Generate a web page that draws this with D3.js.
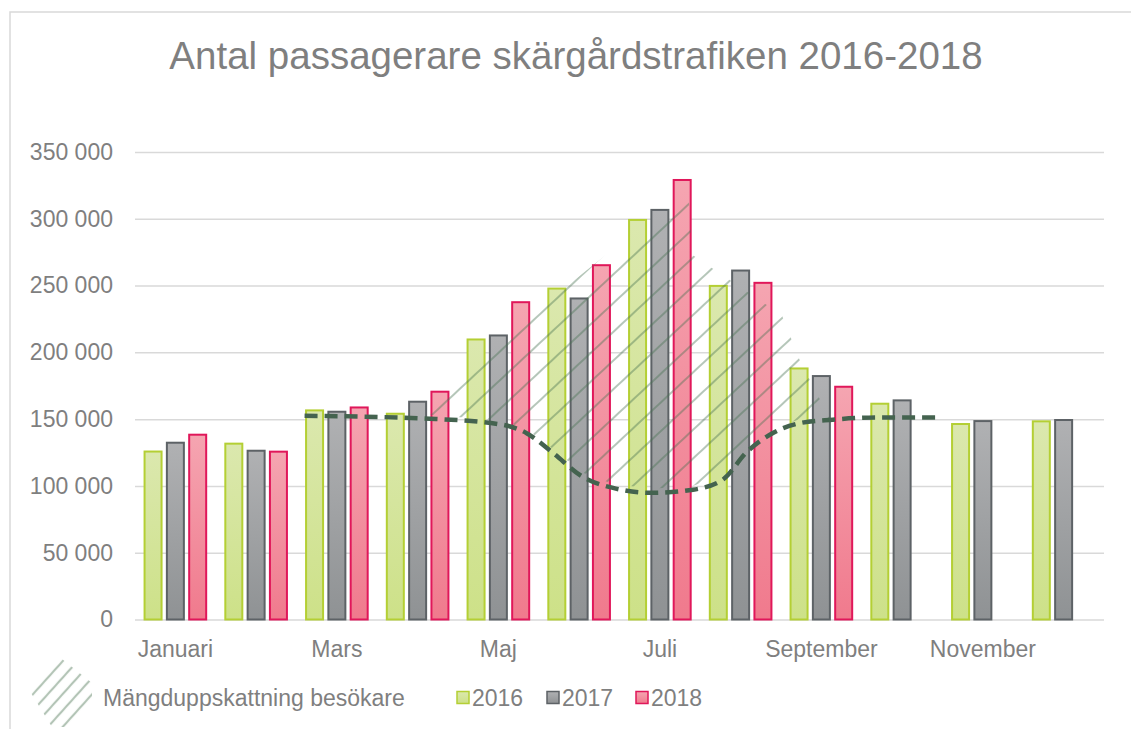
<!DOCTYPE html>
<html>
<head>
<meta charset="utf-8">
<script src="https://cdn.jsdelivr.net/npm/d3@7"></script>
<style>
body { margin: 0; background: #fff; }
text { font-family: "Liberation Sans", Arial, sans-serif; fill: #7f7f7f; }
</style>
</head>
<body>
<div id="chart"></div>
<script>
// data
var months = ["Januari", "Februari", "Mars", "April", "Maj", "Juni", "Juli",
              "Augusti", "September", "Oktober", "November", "December"];
var years = ["2016", "2017", "2018"];
var pax2016 = [126500, 132400, 157300, 154800, 210400, 248500, 299900, 250500, 188700, 162300, 147100, 149100];
var pax2017 = [133100, 127100, 156300, 163800, 213400, 241100, 307400, 262000, 183000, 164800, 149300, 150100];
var pax2018 = [139100, 126400, 159500, 171300, 238300, 266000, 329800, 252800, 175000, null, null, null];
var yTicks = [0, 50000, 100000, 150000, 200000, 250000, 300000, 350000];

// dashed trend, position in months from start of year
var trendMonth = [2.10, 3.65, 4.55, 4.85, 5.17, 5.54, 5.92, 6.41, 6.91, 7.28, 7.57, 7.90, 8.23, 8.64, 9.22, 9.94];
var trendValue = [152500, 150300, 145800, 139500, 125000, 107000, 98500, 94800, 97200, 104700, 125000, 139600, 147000, 149600, 151300, 151300];

// upper edge of the hatched estimate ("Mängduppskattning besökare")
var estimateMonth = [3.45, 5.39, 6.85, 6.90, 8.01, 8.24, 8.61];
var estimateValue = [152000, 251700, 321600, 273000, 228000, 193000, 150000];

var W = 1131, H = 729;
var plotLeft = 135, plotRight = 1104, plotTop = 152, plotBottom = 619.5;

var svg = d3.select("#chart").append("svg")
    .attr("width", W)
    .attr("height", H);

var defs = svg.append("defs");
var fills = {
    "2016": { top: "#dbe8ae", bot: "#cde188", stroke: "#b4cf34" },
    "2017": { top: "#b0b1b3", bot: "#8f9294", stroke: "#5d6266" },
    "2018": { top: "#f5a5b1", bot: "#f07a8d", stroke: "#e0175a" }
};
years.forEach(function(yr) {
    var g = defs.append("linearGradient")
        .attr("id", "g" + yr)
        .attr("x1", 0).attr("y1", 0).attr("x2", 0).attr("y2", 1);
    g.append("stop").attr("offset", "0%").attr("stop-color", fills[yr].top);
    g.append("stop").attr("offset", "100%").attr("stop-color", fills[yr].bot);
});

var hatch = defs.append("pattern")
    .attr("id", "hatch")
    .attr("patternUnits", "userSpaceOnUse")
    .attr("width", 21).attr("height", 21)
    .attr("patternTransform", "rotate(47)");
hatch.append("line")
    .attr("x1", 10).attr("y1", 0).attr("x2", 10).attr("y2", 21)
    .attr("stroke", "#45704f")
    .attr("stroke-opacity", 0.4)
    .attr("stroke-width", 2);

var hatchKey = defs.append("pattern")
    .attr("id", "hatchKey")
    .attr("patternUnits", "userSpaceOnUse")
    .attr("width", 11).attr("height", 11)
    .attr("patternTransform", "rotate(42)");
hatchKey.append("line")
    .attr("x1", 5).attr("y1", 0).attr("x2", 5).attr("y2", 11)
    .attr("stroke", "#b3c4b6")
    .attr("stroke-width", 2.2);

// chart frame
svg.append("rect")
    .attr("x", 10).attr("y", 12)
    .attr("width", W + 20).attr("height", H + 20)
    .attr("fill", "none")
    .attr("stroke", "#d9d9d9")
    .attr("stroke-width", 1.5);

svg.append("text")
    .attr("x", 576).attr("y", 69)
    .attr("text-anchor", "middle")
    .style("font-size", "38.5px")
    .text("Antal passagerare skärgårdstrafiken 2016-2018");

var x = d3.scaleBand().domain(months).range([plotLeft, plotRight]).padding(0);
var xPos = d3.scaleLinear().domain([0, 12]).range([plotLeft, plotRight]);
var xIn = d3.scaleBand().domain(years).range([0, x.bandwidth()])
    .paddingInner(0.148).paddingOuter(0.384);
var y = d3.scaleLinear().domain([0, 350000]).range([plotBottom, plotTop]);

var fmt = d3.formatLocale({ decimal: ",", thousands: " ", grouping: [3], currency: ["", ""] }).format(",d");

var yAxis = svg.append("g")
    .attr("transform", "translate(" + plotLeft + ",0)")
    .call(d3.axisLeft(y).tickValues(yTicks).tickFormat(fmt)
          .tickSize(-(plotRight - plotLeft)).tickPadding(22));
yAxis.select(".domain").remove();
yAxis.selectAll("line").attr("stroke", "#d9d9d9").attr("stroke-width", 1.5);
yAxis.selectAll("text").style("font-size", "23px").attr("fill", "#7f7f7f");

var xAxis = svg.append("g")
    .attr("transform", "translate(0," + plotBottom + ")")
    .call(d3.axisBottom(x)
          .tickValues(months.filter(function(d, i) { return i % 2 == 0; }))
          .tickSize(0).tickPadding(21));
xAxis.select(".domain").remove();
xAxis.selectAll("text").style("font-size", "23px").attr("fill", "#7f7f7f");

// bars
var series = { "2016": pax2016, "2017": pax2017, "2018": pax2018 };
years.forEach(function(yr) {
    var vals = series[yr];
    svg.append("g").selectAll("rect")
        .data(months.map(function(m, i) { return { m: m, v: vals[i] }; })
              .filter(function(d) { return d.v != null; }))
        .enter().append("rect")
        .attr("x", function(d) { return x(d.m) + xIn(yr) + 1; })
        .attr("y", function(d) { return y(d.v) + 1; })
        .attr("width", xIn.bandwidth() - 2)
        .attr("height", function(d) { return y(0) - y(d.v) - 1; })
        .attr("fill", "url(#g" + yr + ")")
        .attr("stroke", fills[yr].stroke)
        .attr("stroke-width", 2);
});

// hatched estimate, drawn over the bars
var topPts = estimateMonth.map(function(m, i) { return [xPos(m), y(estimateValue[i])]; });
var lowPts = [];
trendMonth.forEach(function(m, i) {
    if (m > estimateMonth[0] && m < estimateMonth[estimateMonth.length - 1]) {
        lowPts.push([xPos(m), y(trendValue[i]) - 4]);
    }
});
lowPts.reverse();
svg.append("path")
    .attr("d", d3.line()(topPts.concat(lowPts)) + "Z")
    .attr("fill", "url(#hatch)");

// dashed trend
svg.append("path")
    .datum(trendMonth.map(function(m, i) { return [m, trendValue[i]]; }))
    .attr("d", d3.line()
          .x(function(d) { return xPos(d[0]); })
          .y(function(d) { return y(d[1]); })
          .curve(d3.curveMonotoneX))
    .attr("fill", "none")
    .attr("stroke", "#44634f")
    .attr("stroke-width", 4.5)
    .attr("stroke-dasharray", "13,7");

// legend
var leg = svg.append("g");
leg.append("path")
    .attr("d", "M31,693 L62,659 L92,683 L92,700 L68,727 L52,727 Z")
    .attr("fill", "url(#hatchKey)");
leg.append("text")
    .attr("x", 103).attr("y", 706)
    .style("font-size", "23px")
    .text("Mängduppskattning besökare");
var keyX = { "2016": 457, "2017": 547, "2018": 636 };
years.forEach(function(yr) {
    leg.append("rect")
        .attr("x", keyX[yr]).attr("y", 691.5)
        .attr("width", 12).attr("height", 12)
        .attr("fill", "url(#g" + yr + ")")
        .attr("stroke", fills[yr].stroke)
        .attr("stroke-width", 1.5);
    leg.append("text")
        .attr("x", keyX[yr] + 15).attr("y", 706)
        .style("font-size", "23px")
        .text(yr);
});
</script>
</body>
</html>
